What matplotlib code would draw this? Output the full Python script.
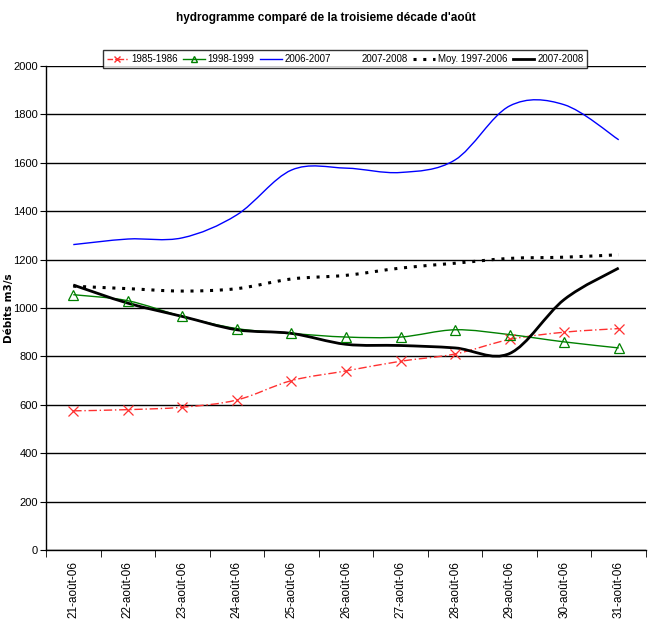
import numpy as np
import matplotlib
matplotlib.use('Agg')
import matplotlib.pyplot as plt
from matplotlib.path import Path
from matplotlib.patches import PathPatch
from matplotlib.lines import Line2D

plt.rcParams['font.family'] = ['Liberation Sans', 'DejaVu Sans']

# ── data ─────────────────────────────────────────────────────────────────────
dates = ['21-août-06', '22-août-06', '23-août-06', '24-août-06', '25-août-06',
         '26-août-06', '27-août-06', '28-août-06', '29-août-06', '30-août-06',
         '31-août-06']
q_1985 = [575, 580, 590, 620, 700, 740, 780, 810, 870, 900, 915]
q_1998 = [1055, 1030, 965, 915, 895, 880, 880, 910, 890, 860, 835]
q_2006 = [1262, 1285, 1290, 1385, 1570, 1578, 1560, 1612, 1835, 1840, 1695]
q_moy = [1090, 1080, 1070, 1080, 1120, 1135, 1165, 1185, 1205, 1210, 1220]
q_2007 = [1095, 1020, 965, 910, 895, 850, 845, 835, 812, 1035, 1165]


def smooth_path(y):
    # Excel-style smoothed line: Catmull-Rom segments as cubic Bezier
    x = np.arange(len(y), dtype=float)
    p = np.column_stack([x, np.asarray(y, dtype=float)])
    p_ext = np.vstack([p[0], p, p[-1]])
    verts, codes = [p[0]], [Path.MOVETO]
    for i in range(len(p) - 1):
        p0, p1, p2, p3 = p_ext[i], p_ext[i + 1], p_ext[i + 2], p_ext[i + 3]
        verts += [p1 + (p2 - p0) / 6, p2 - (p3 - p1) / 6, p2]
        codes += [Path.CURVE4] * 3
    return Path(verts, codes)


def draw_series(ax, y, color, lw, ls, marker=None, ms=7):
    ax.add_patch(PathPatch(smooth_path(y), fill=False, edgecolor=color,
                           lw=lw, linestyle=ls, zorder=3, capstyle='butt'))
    if marker:
        ax.plot(range(len(y)), y, ls='none', marker=marker, ms=ms,
                mfc='none', mec=color, mew=0.9, zorder=4)


fig = plt.figure(figsize=(6.51, 6.30), dpi=100, facecolor='white')
ax = fig.add_axes([46 / 651, 1 - 550 / 630, 600 / 651, 484 / 630])

draw_series(ax, q_1985, '#ff3030', 1.0, (0, (6, 2, 1, 2)), marker='x', ms=7)
draw_series(ax, q_1998, '#008000', 1.0, '-', marker='^', ms=7)
draw_series(ax, q_2006, '#0000ff', 1.0, '-')
draw_series(ax, q_moy, 'black', 2.2, (0, (1, 2.2)))
draw_series(ax, q_2007, 'black', 2.0, '-')

ax.set_xlim(-0.5, len(dates) - 0.5)
ax.set_ylim(0, 2000)
ax.set_yticks(range(0, 2001, 200))
ax.yaxis.grid(True, color='black', lw=1.0)
ax.set_axisbelow(True)
ax.set_xticks(np.arange(len(dates)))
ax.set_xticklabels(dates, rotation=90, fontsize=8.5)
ax.set_xticks(np.arange(-0.5, len(dates)), minor=True)
ax.tick_params(axis='x', which='major', length=0, pad=8)
ax.tick_params(axis='x', which='minor', length=5, direction='out')
ax.tick_params(axis='y', length=4, direction='out', labelsize=8, pad=2)
for s in ['top', 'right']:
    ax.spines[s].set_visible(False)
ax.spines['left'].set_linewidth(1.0)
ax.spines['bottom'].set_linewidth(1.0)

ax.set_ylabel('Débits m3/s', fontsize=7.5, fontweight='bold',
              family='DejaVu Sans')
ax.yaxis.set_label_coords(-0.054, 0.5)
fig.text(0.5, 1 - 18 / 630, "hydrogramme comparé de la troisieme décade d'août",
         ha='center', va='center', fontsize=8.5, fontweight='bold')

handles = [
    Line2D([], [], color='#ff3030', lw=1.0, ls=(0, (4, 1.5, 1, 1.5)),
           marker='x', ms=5, mec='#ff3030'),
    Line2D([], [], color='#008000', lw=1.0, marker='^', ms=5, mfc='none',
           mec='#008000'),
    Line2D([], [], color='#0000ff', lw=1.0),
    Line2D([], [], color='white', lw=1.0),
    Line2D([], [], color='black', lw=2.2, ls=(0, (1, 2.2))),
    Line2D([], [], color='black', lw=2.0),
]
labels = ['1985-1986', '1998-1999', '2006-2007', '2007-2008',
          'Moy. 1997-2006', '2007-2008']
leg = fig.legend(handles, labels, ncol=6, loc='center',
                 bbox_to_anchor=(345 / 651, 1 - 59 / 630), fontsize=7,
                 frameon=True, fancybox=False, edgecolor='black',
                 handlelength=2.2, handletextpad=0.3, columnspacing=0.6,
                 borderpad=0.4)
leg.get_frame().set_linewidth(1.0)

fig.savefig('out.png', dpi=100, facecolor='white')
